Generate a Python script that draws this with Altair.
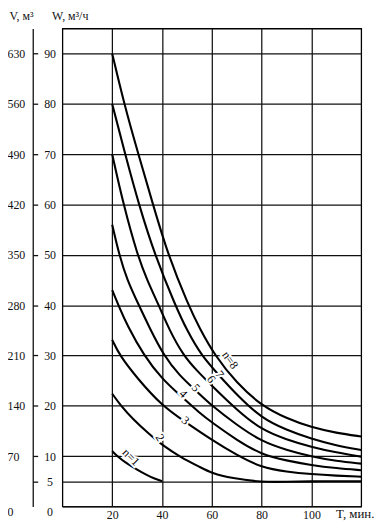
import altair as alt
import pandas as pd

# ---- data (T, min  ->  W, m3/h) ----
n1_T = [20, 22, 25, 30, 34, 37, 40]
n1_W = [11.0, 10.0, 8.8, 7.3, 6.2, 5.5, 5.0]

n2_T = [20, 23.5, 28, 35, 40, 48, 55, 60, 68, 80, 90, 100, 110, 120]
n2_W = [22.4, 20, 17.5, 14.3, 12.2, 9.6, 7.9, 6.6, 5.6, 4.8, 4.9, 5.0, 5.0, 5.0]

n3_T = [20, 23, 30, 40, 49, 60, 70, 80, 90, 100, 110, 120]
n3_W = [33.1, 30, 25.5, 20, 16.9, 13.2, 10.2, 7.7, 6.9, 6.4, 6.1, 5.9]

n4_T = [20, 22.5, 26, 32.7, 40, 48.6, 55, 60, 70, 80, 90, 100, 110, 120]
n4_W = [43, 40, 36.0, 30, 25.3, 21.5, 18.6, 16.7, 13.2, 10.3, 9.1, 8.2, 7.6, 7.2]

n5_T = [20, 22.8, 26, 30.7, 35, 40.7, 47, 53.9, 60, 70, 80, 90, 100, 110, 120]
n5_W = [56, 50, 45, 40, 35.5, 30, 26.0, 22.9, 20, 16.2, 12.9, 11.2, 9.9, 9.0, 8.5]

n6_T = [20, 24.5, 30.1, 34, 38.7, 43, 48.6, 54, 60, 70, 80, 90, 100, 110, 120]
n6_W = [70, 60, 50, 45, 40, 35, 30, 27, 24, 19.2, 15.2, 13.3, 11.8, 10.7, 9.9]

n7_T = [20, 25.2, 30.7, 37.1, 45.3, 50, 55.8, 63, 70, 80, 90, 100, 110, 120]
n7_W = [80, 70, 60, 50, 40, 35, 30, 26, 22.2, 17.5, 15.2, 13.4, 12.1, 11.2]

n8_T = [20, 24.8, 30.5, 36.4, 42.4, 50.6, 55, 61.2, 70, 80, 90, 100, 110, 120]
n8_W = [90, 80, 70, 60, 50, 40, 35.5, 30, 24.5, 20, 17.5, 15.7, 14.6, 13.9]

label_text = ["n=1", "2", "3", "4", "5", "6", "7", "n=8"]
label_T = [27.6, 39.3, 49.5, 48.6, 53.6, 59.9, 63.2, 67.4]
label_W = [9.8, 13.7, 17.1, 22.4, 23.6, 25.3, 26.3, 29.1]
label_angle = [45, 60, 40, 45, 50, 55, 55, 55]

x_ticks = [20, 40, 60, 80, 100]
w_ticks = [0, 5, 10, 20, 30, 40, 50, 60, 70, 80, 90]
v_ticks = [0, 10, 20, 30, 40, 50, 60, 70, 80, 90]   # V = 7 * W
mark_ticks = [5, 10, 20, 30, 40, 50, 60, 70, 80, 90]

curves = {1: (n1_T, n1_W), 2: (n2_T, n2_W), 3: (n3_T, n3_W), 4: (n4_T, n4_W),
          5: (n5_T, n5_W), 6: (n6_T, n6_W), 7: (n7_T, n7_W), 8: (n8_T, n8_W)}
rows = []
for n, (ts, ws) in curves.items():
    for t, w in zip(ts, ws):
        rows.append({"n": n, "T": t, "W": w})
df = pd.DataFrame(rows)
lab = pd.DataFrame({"label": label_text, "T": label_T, "W": label_W, "angle": label_angle})

FONT = "Liberation Serif"
INK = "#111111"
zero_base = {"condition": {"test": "datum.value == 0", "value": "top"}, "value": "middle"}

x_scale = alt.Scale(domain=[0, 120], nice=False, zero=False)
y_scale = alt.Scale(domain=[0, 95], nice=False, zero=False)

x_axis = alt.Axis(values=x_ticks, grid=True, gridColor=INK, gridWidth=1.25,
                  ticks=False, tickSize=0, domain=False,
                  labelFont=FONT, labelFontSize=12, labelColor=INK, labelPadding=3,
                  title="T, мин.", titleFont=FONT, titleFontSize=13, titleFontWeight="normal",
                  titleColor=INK, titleAlign="left", titleBaseline="alphabetic",
                  titleX=276, titleY=11)

w_axis = alt.Axis(orient="left", values=w_ticks, grid=True, gridColor=INK, gridWidth=1.25,
                  ticks=False, tickSize=0, domain=False, labelOverlap=False,
                  labelFont=FONT, labelFontSize=12, labelColor=INK,
                  labelAlign="center", labelPadding=13, labelBaseline=zero_base,
                  title="W, м³/ч", titleFont=FONT, titleFontSize=12, titleFontWeight="normal",
                  titleColor=INK, titleAngle=0, titleAlign="left", titleBaseline="alphabetic",
                  titleX=-11, titleY=-9)

v_axis = alt.Axis(orient="left", offset=30, values=v_ticks, labelExpr="datum.value * 7",
                  grid=False, ticks=False, tickSize=0, domain=True, domainColor=INK,
                  domainWidth=1.3, labelOverlap=False,
                  labelFont=FONT, labelFontSize=12, labelColor=INK,
                  labelAlign="left", labelPadding=26, labelBaseline=zero_base,
                  title="V, м³", titleFont=FONT, titleFontSize=12, titleFontWeight="normal",
                  titleColor=INK, titleAngle=0, titleAlign="left", titleBaseline="alphabetic",
                  titleX=-24, titleY=-9)

t_axis = alt.Axis(orient="left", offset=25, values=mark_ticks, grid=False,
                  ticks=True, tickSize=5, tickColor=INK, tickWidth=1.3,
                  labels=False, domain=False, title="")

lines = alt.Chart(df).mark_line(color="black", strokeWidth=2.1, interpolate="basis").encode(
    x=alt.X("T:Q", scale=x_scale, axis=x_axis),
    y=alt.Y("W:Q", scale=y_scale, axis=w_axis),
    detail="n:N",
)

labels_bg = alt.Chart(lab).mark_text(font=FONT, fontSize=12, color="white",
                                     stroke="white", strokeWidth=4).encode(
    x=alt.X("T:Q", scale=x_scale, axis=x_axis),
    y=alt.Y("W:Q", scale=y_scale, axis=v_axis),
    text="label:N",
    angle=alt.Angle("angle:Q", scale=None),
)

labels_fg = alt.Chart(lab).mark_text(font=FONT, fontSize=12, color="black").encode(
    x=alt.X("T:Q", scale=x_scale, axis=x_axis),
    y=alt.Y("W:Q", scale=y_scale, axis=t_axis),
    text="label:N",
    angle=alt.Angle("angle:Q", scale=None),
)

chart = alt.layer(lines, labels_bg, labels_fg).resolve_axis(y="independent").properties(
    width=302, height=483,
    autosize=alt.AutoSizeParams(type="none"),
    padding={"left": 55, "top": 18, "right": 20, "bottom": 13},
    background="white",
).configure_view(stroke="black", strokeWidth=1.3)

chart.save("out.html", embed_options={"renderer": "svg", "actions": False})
